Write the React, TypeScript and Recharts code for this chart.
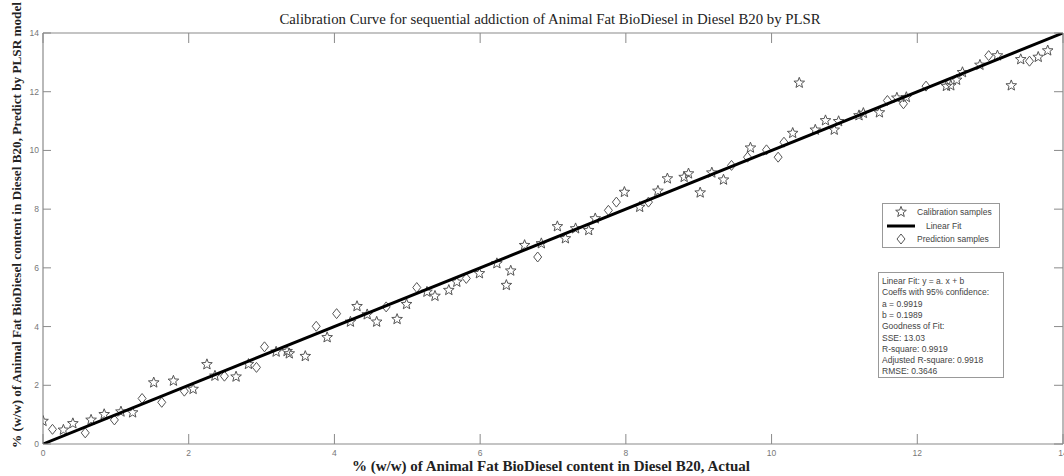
import React from 'react';
import { ScatterChart, Scatter, XAxis, YAxis } from 'recharts';

// Calibration samples (stars)
const calX = [0.0, 0.28, 0.41, 0.66, 0.84, 1.07, 1.23, 1.52, 1.79, 2.06, 2.25, 2.36, 2.65, 2.82, 3.2, 3.35, 3.38, 3.6, 3.9, 4.22, 4.31, 4.45, 4.58, 4.86, 4.99, 5.27, 5.38, 5.57, 5.68, 5.99, 6.23, 6.36, 6.42, 6.61, 6.84, 7.06, 7.17, 7.31, 7.49, 7.58, 7.98, 8.19, 8.44, 8.57, 8.8, 8.86, 9.02, 9.18, 9.34, 9.71, 10.29, 10.38, 10.6, 10.74, 10.86, 10.92, 11.2, 11.26, 11.48, 11.72, 11.85, 12.4, 12.46, 12.54, 12.62, 12.86, 13.1, 13.29, 13.42, 13.66, 13.79];
const calY = [0.78, 0.48, 0.7, 0.82, 1.01, 1.1, 1.07, 2.09, 2.15, 1.87, 2.71, 2.32, 2.29, 2.72, 3.14, 3.16, 3.08, 2.99, 3.63, 4.16, 4.69, 4.41, 4.16, 4.25, 4.76, 5.18, 5.04, 5.24, 5.52, 5.81, 6.15, 5.41, 5.9, 6.77, 6.83, 7.41, 7.0, 7.34, 7.28, 7.68, 8.58, 8.07, 8.62, 9.04, 9.09, 9.21, 8.56, 9.24, 9.0, 10.09, 10.59, 12.3, 10.7, 11.02, 10.7, 10.99, 11.19, 11.27, 11.29, 11.79, 11.81, 12.19, 12.21, 12.4, 12.66, 12.91, 13.23, 12.21, 13.1, 13.18, 13.4];

// Prediction samples (diamonds)
const predX = [0.13, 0.58, 0.98, 1.36, 1.63, 1.94, 2.49, 2.93, 3.04, 3.75, 4.03, 4.71, 5.13, 5.81, 6.79, 7.76, 7.87, 8.31, 9.45, 9.67, 9.93, 10.09, 10.17, 11.59, 11.81, 12.12, 12.98, 13.54];
const predY = [0.5, 0.38, 0.82, 1.55, 1.42, 1.8, 2.31, 2.61, 3.31, 4.01, 4.44, 4.67, 5.33, 5.64, 6.37, 7.96, 8.24, 8.24, 9.49, 9.77, 10.02, 9.77, 10.28, 11.7, 11.59, 12.19, 13.23, 13.04];

// Linear fit (as drawn)
const fitX = [0, 14];
const fitY = [0, 14];

const xTicks = [0, 2, 4, 6, 8, 10, 12, 14];
const yTicks = [0, 2, 4, 6, 8, 10, 12, 14];

const titleText = 'Calibration Curve for sequential addiction of Animal Fat BioDiesel in Diesel B20 by PLSR';
const xLabelText = '% (w/w) of Animal Fat BioDiesel content in Diesel B20, Actual';
const yLabelText = '% (w/w) of Animal Fat BioDiesel content in Diesel B20, Predict by PLSR model';
const legendLabels = ['Calibration samples', 'Linear Fit', 'Prediction samples'];
const statsLines = [
  'Linear Fit: y = a. x + b',
  'Coeffs with 95% confidence:',
  'a = 0.9919',
  'b = 0.1989',
  'Goodness of Fit:',
  'SSE: 13.03',
  'R-square: 0.9919',
  'Adjusted R-square: 0.9918',
  'RMSE: 0.3646',
];

const calData = calX.map((x, i) => ({ x, y: calY[i] }));
const predData = predX.map((x, i) => ({ x, y: predY[i] }));
const fitData = fitX.map((x, i) => ({ x, y: fitY[i] }));

const axisColor = '#8a8a8a';
const tickTextColor = '#777';
const markerColor = '#555';
const sans = '"Liberation Sans", Arial, sans-serif';
const serif = '"Liberation Serif", "Times New Roman", serif';

function starPath(cx: number, cy: number, R: number, r: number) {
  let d = '';
  for (let i = 0; i < 10; i++) {
    const a = (-90 + i * 36) * Math.PI / 180;
    const rad = i % 2 === 0 ? R : r;
    const px = cx + rad * Math.cos(a);
    const py = cy + rad * Math.sin(a);
    d += (i === 0 ? 'M' : 'L') + px.toFixed(2) + ',' + py.toFixed(2);
  }
  return d + 'Z';
}

const StarShape = (props: any) => {
  const { cx, cy } = props;
  if (cx == null || cy == null) return <g />;
  return <path d={starPath(cx, cy, 5.6, 2.4)} fill="none" stroke={markerColor} strokeWidth={1} />;
};

const DiamondShape = (props: any) => {
  const { cx, cy } = props;
  if (cx == null || cy == null) return <g />;
  const w = 4, h = 5;
  return <path d={`M${cx},${cy - h}L${cx + w},${cy}L${cx},${cy + h}L${cx - w},${cy}Z`} fill="none" stroke={markerColor} strokeWidth={1} />;
};

const EmptyShape = () => <g />;

const BottomTick = (props: any) => {
  const { x, y, payload } = props;
  return (
    <g>
      <line x1={x} y1={y} x2={x} y2={y - 10} stroke={axisColor} strokeWidth={1} />
      <text x={x} y={y + 12} textAnchor="middle" fontSize={8.5} fill={tickTextColor} fontFamily={sans}>{payload.value}</text>
    </g>
  );
};
const TopTick = (props: any) => {
  const { x, y } = props;
  return <line x1={x} y1={y} x2={x} y2={y + 10} stroke={axisColor} strokeWidth={1} />;
};
const LeftTick = (props: any) => {
  const { x, y, payload } = props;
  return (
    <g>
      <line x1={x} y1={y} x2={x + 8} y2={y} stroke={axisColor} strokeWidth={1} />
      <text x={x - 4} y={y + 3} textAnchor="end" fontSize={8.5} fill={tickTextColor} fontFamily={sans}>{payload.value}</text>
    </g>
  );
};
const RightTick = (props: any) => {
  const { x, y } = props;
  return <line x1={x} y1={y} x2={x - 9} y2={y} stroke={axisColor} strokeWidth={1} />;
};

const TitleLabel = () => (
  <text x={550} y={24} textAnchor="middle" fontSize={14.8} fill="#222" fontFamily={serif}>{titleText}</text>
);
const XLabel = () => (
  <text x={551} y={471} textAnchor="middle" fontSize={15} fontWeight="bold" fill="#222" fontFamily={serif}>{xLabelText}</text>
);
const YLabel = () => (
  <text x={0} y={0} transform="translate(21,225) rotate(-90)" textAnchor="middle" fontSize={13.2} fontWeight="bold" fill="#222" fontFamily={serif}>{yLabelText}</text>
);

export default function App() {
  return (
    <div style={{ position: 'absolute', left: 0, top: 0, width: 1064, height: 476, background: '#fff' }}>
      <ScatterChart width={1064} height={476} margin={{ top: 32, right: 0, bottom: 0, left: 0 }}>
        <XAxis xAxisId="bottom" type="number" dataKey="x" domain={[0, 14]} ticks={xTicks} allowDataOverflow
          height={32} tickSize={0} tickMargin={0} tickLine={false} axisLine={{ stroke: axisColor, strokeWidth: 1.2 }}
          tick={<BottomTick />} interval={0} label={<XLabel />} />
        <XAxis xAxisId="top" orientation="top" type="number" dataKey="x" domain={[0, 14]} ticks={xTicks} allowDataOverflow
          height={1} tickSize={0} tickMargin={0} tickLine={false} axisLine={{ stroke: axisColor, strokeWidth: 1.2 }}
          tick={<TopTick />} interval={0} label={<TitleLabel />} />
        <YAxis yAxisId="left" type="number" dataKey="y" domain={[0, 14]} ticks={yTicks} allowDataOverflow
          width={43} tickSize={0} tickMargin={0} tickLine={false} axisLine={{ stroke: axisColor, strokeWidth: 1.2 }}
          tick={<LeftTick />} interval={0} label={<YLabel />} />
        <YAxis yAxisId="right" orientation="right" type="number" dataKey="y" domain={[0, 14]} ticks={yTicks} allowDataOverflow
          width={1} tickSize={0} tickMargin={0} tickLine={false} axisLine={{ stroke: axisColor, strokeWidth: 1.2 }}
          tick={<RightTick />} interval={0} />
        <Scatter name="Calibration samples" data={calData} xAxisId="bottom" yAxisId="left" shape={<StarShape />} isAnimationActive={false} />
        <Scatter name="Prediction samples" data={predData} xAxisId="bottom" yAxisId="left" shape={<DiamondShape />} isAnimationActive={false} />
        <Scatter name="Linear Fit" data={fitData} xAxisId="bottom" yAxisId="left" shape={<EmptyShape />}
          line={{ stroke: '#000', strokeWidth: 3 }} lineType="joint" isAnimationActive={false} />
        <Scatter data={fitData} xAxisId="top" yAxisId="right" shape={<EmptyShape />} isAnimationActive={false} legendType="none" />
      </ScatterChart>

      <div style={{ position: 'absolute', left: 882, top: 203, width: 118, height: 45, border: '1px solid #999', background: '#fff', boxSizing: 'border-box' }}>
        <svg width={118} height={45} style={{ position: 'absolute', left: -1, top: -1 }}>
          <path d={starPath(19, 9, 5.6, 2.4)} fill="none" stroke={markerColor} strokeWidth={1} />
          <text x={35} y={12} fontSize={8.5} fill="#444" fontFamily={sans}>{legendLabels[0]}</text>
          <line x1={5} y1={23} x2={33} y2={23} stroke="#000" strokeWidth={3} />
          <text x={44} y={26} fontSize={8.5} fill="#444" fontFamily={sans}>{legendLabels[1]}</text>
          <path d={`M19,${36 - 5}L23,36L19,${36 + 5}L15,36Z`} fill="none" stroke={markerColor} strokeWidth={1} />
          <text x={35} y={39} fontSize={8.5} fill="#444" fontFamily={sans}>{legendLabels[2]}</text>
        </svg>
      </div>

      <div style={{ position: 'absolute', left: 878, top: 272, width: 126, height: 106, border: '1px solid #999', background: '#fff', boxSizing: 'border-box' }}>
        <svg width={126} height={106} style={{ position: 'absolute', left: -1, top: -1 }}>
          {statsLines.map((s, i) => (
            <text key={i} x={4} y={12 + i * 11.3} fontSize={8.5} fill="#444" fontFamily={sans}>{s}</text>
          ))}
        </svg>
      </div>
    </div>
  );
}
